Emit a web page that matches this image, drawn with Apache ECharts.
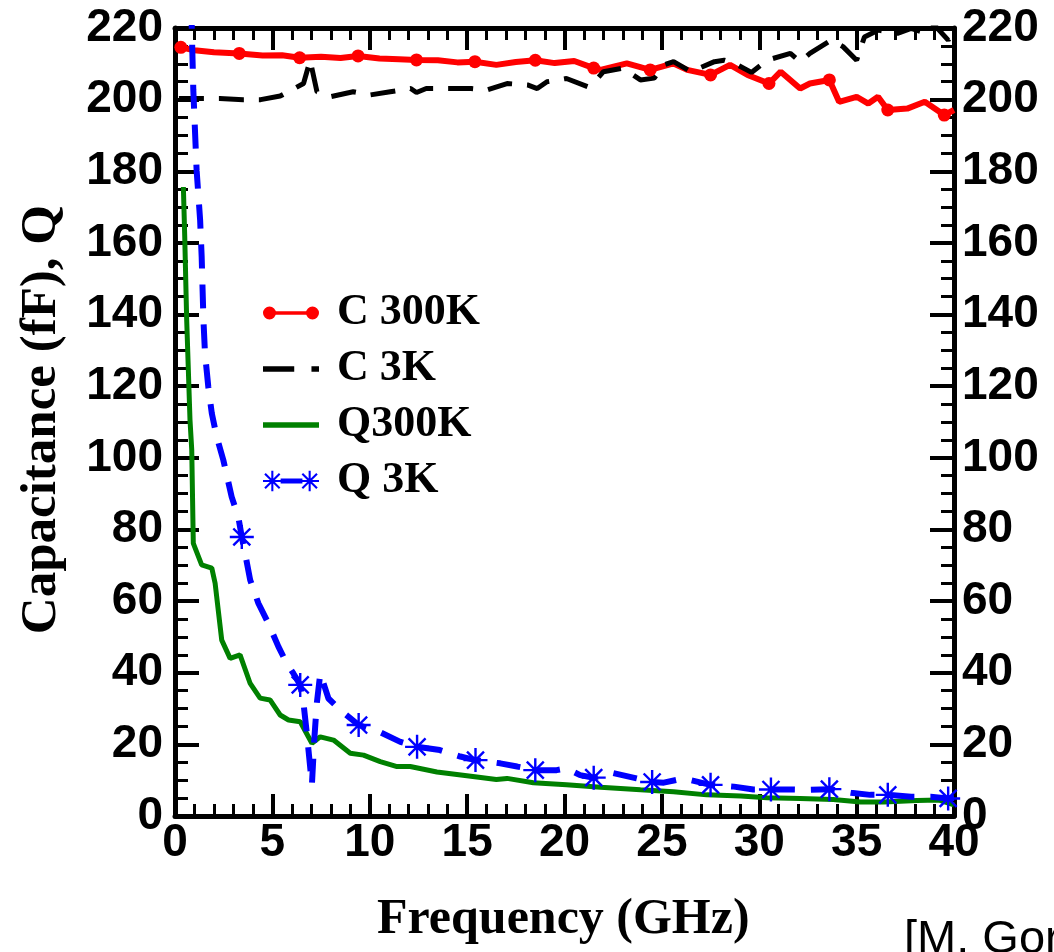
<!DOCTYPE html>
<html>
<head>
<meta charset="utf-8">
<script src="https://cdn.jsdelivr.net/npm/echarts@6/dist/echarts.min.js"></script>
<style>
  html, body { margin: 0; padding: 0; background: #fff; }
  #chart { width: 1054px; height: 952px; }
</style>
</head>
<body>
<div id="chart"></div>
<script>
// C 300K (red, dots every ~3 GHz)
var c300kFreq = [0.3, 1, 2, 3.3, 4.5, 5.5, 6.4, 7.5, 8.5, 9.4, 10.5, 11.5, 12.4, 13.5, 14.5, 15.4, 16.5, 17.5, 18.5, 19.5, 20.5, 21.5, 21.85, 23.2, 24.4, 25.6, 26.3, 27.5, 28.5, 29.4, 30.5, 31.1, 32.1, 32.6, 33.6, 34.1, 35.0, 35.6, 36.1, 36.6, 37.6, 38.5, 39.5, 40];
var c300kVal  = [214.6, 213.8, 213.2, 212.9, 212.3, 212.4, 211.7, 212.0, 211.6, 212.2, 211.5, 211.3, 211.1, 211.0, 210.4, 210.6, 209.7, 210.5, 211.0, 210.2, 210.8, 208.8, 208.3, 210.1, 208.3, 210.1, 208.3, 206.9, 209.7, 206.9, 204.5, 207.8, 203.1, 204.5, 205.5, 199.4, 200.8, 198.9, 200.8, 197.1, 197.5, 199.4, 195.7, 197.1];
var c300kMarkFreq = [0.3, 3.3, 6.4, 9.4, 12.4, 15.4, 18.5, 21.5, 24.4, 27.5, 30.5, 33.6, 36.6, 39.5];

// C 3K (black dashed)
var c3kFreq = [0.2, 1.45, 2.3, 3.5, 4.4, 5.4, 6.6, 6.94, 7.29, 7.97, 9.15, 10.0, 11.05, 12.1, 12.4, 12.9, 14.1, 15.2, 16.0, 17.05, 18.1, 18.6, 19.1, 20.1, 21.2, 21.5, 22.0, 23.0, 23.9, 24.6, 25.1, 25.6, 26.5, 27.7, 28.2, 28.7, 29.6, 30.4, 31.6, 32.1, 32.6, 33.7, 34.3, 35.0, 35.4, 36.1, 37.1, 37.8, 38.6, 39.0, 39.7, 40];
var c3kVal  = [200.3, 200.3, 200.3, 200.0, 200.0, 201.0, 204.5, 211.0, 202.2, 200.8, 202.2, 201.3, 202.2, 203.1, 202.0, 203.1, 203.1, 203.1, 202.7, 204.5, 204.1, 203.1, 205.0, 205.9, 203.6, 204.7, 207.8, 208.8, 205.5, 206.0, 209.7, 210.6, 207.8, 210.6, 211.0, 210.2, 207.6, 211.0, 212.9, 210.6, 212.9, 216.6, 214.8, 211.0, 217.5, 219.4, 218.5, 219.9, 218.5, 220.8, 216.6, 219.4];

// Q300K (green)
var q300kFreq = [0.43, 0.5, 0.6, 0.77, 0.86, 0.94, 1.37, 1.89, 2.06, 2.4, 2.83, 3.34, 3.86, 4.37, 4.88, 5.4, 5.83, 6.43, 7.03, 7.46, 8.14, 9.0, 9.68, 10.54, 11.4, 12.08, 13.45, 15.5, 16.5, 17.05, 18.4, 20.1, 21.85, 23.9, 25.6, 27.3, 29.05, 30.4, 32.1, 33.8, 35.2, 36.4, 38.1, 39.2, 40];
var q300kVal  = [175.6, 161.7, 138.5, 110.6, 102.2, 76.1, 70.1, 69.2, 65.0, 49.1, 44.0, 45.0, 37.0, 32.9, 32.4, 28.2, 26.8, 26.3, 20.3, 22.1, 21.2, 17.5, 17.0, 15.2, 13.8, 13.8, 12.3, 10.9, 10.2, 10.5, 9.3, 8.7, 8.0, 7.3, 6.8, 5.9, 5.6, 5.1, 4.9, 4.6, 3.9, 3.9, 4.3, 4.5, 3.1];

// Q 3K (blue dashed, asterisks)
var q3kFreq = [0.8, 0.86, 0.94, 1.11, 1.29, 1.37, 1.46, 1.54, 1.71, 1.89, 2.14, 2.48, 2.91, 3.25, 3.43, 3.6, 3.86, 4.28, 4.8, 5.31, 5.74, 6.08, 6.43, 6.6, 6.77, 6.94, 7.03, 7.15, 7.28, 7.46, 7.88, 8.48, 9.43, 10.5, 11.57, 12.43, 13.6, 14.65, 15.43, 16.7, 17.57, 18.5, 19.6, 20.1, 20.8, 21.5, 22.5, 23.7, 24.5, 25.1, 26.1, 27.5, 28.7, 29.7, 30.6, 31.6, 32.6, 33.6, 34.7, 35.7, 36.6, 37.8, 38.8, 39.7, 40];
var q3kVal  = [260, 220, 202.7, 180.3, 166.4, 156.0, 138.5, 129.2, 119.8, 112.4, 105.9, 99.4, 89.1, 83.5, 77.9, 73.3, 65.9, 59.4, 53.7, 47.3, 42.6, 39.8, 36.6, 31.4, 23.0, 13.7, 8.7, 21.2, 31.4, 39.8, 32.8, 29.6, 25.4, 23.5, 20.7, 19.3, 18.4, 16.6, 15.6, 14.7, 13.8, 12.8, 12.8, 13.3, 11.4, 10.7, 12.0, 10.5, 9.5, 9.3, 10.5, 8.7, 8.2, 7.4, 7.4, 7.4, 7.3, 7.5, 6.5, 5.9, 5.9, 5.4, 5.4, 4.9, 5.0];
var q3kMarkFreq = [3.43, 6.43, 9.43, 12.43, 15.43, 18.5, 21.5, 24.5, 27.5, 30.6, 33.6, 36.6, 39.7];

var seriesNames = ['C 300K', 'C 3K', 'Q300K', 'Q 3K'];
var xTitle = 'Frequency (GHz)';
var yTitle = 'Capacitance (fF), Q';
var creditText = '[M. Gordon';

function zip(xs, ys) {
  var out = [];
  for (var i = 0; i < xs.length; i++) out.push([xs[i], ys[i]]);
  return out;
}

// asterisk marker (4 thin bars, same winding)
var starBody = 'M-1 -10L1 -10L1 10L-1 10Z M-10 -1L10 -1L10 1L-10 1Z ' +
  'M-6.36 -7.78L7.78 6.36L6.36 7.78L-7.78 -6.36Z M-7.78 6.36L6.36 -7.78L7.78 -6.36L-6.36 7.78Z';
var asterisk = 'path://' + starBody;

// legend icons, drawn like the original key
var iconRed = 'path://M0 7a6.5 6.5 0 1 1 13 0a6.5 6.5 0 1 1 -13 0Z M6.5 5.3L49.5 5.3L49.5 8.7L6.5 8.7Z M43 7a6.5 6.5 0 1 1 13 0a6.5 6.5 0 1 1 -13 0Z';
var iconBlack = 'path://M0 0L29 0L29 5L0 5Z M45 0L52 0L52 5L45 5Z';
var iconGreen = 'path://M0 0L52 0L52 5L0 5Z';
var iconBlue = 'path://M1 -1L9 -1L9 -10L11 -10L11 -1L19 -1L19 1L11 1L11 10L9 10L9 1L1 1Z ' +
  'M3.64 -7.78L17.78 6.36L16.36 7.78L2.22 -6.36Z M2.22 6.36L16.36 -7.78L17.78 -6.36L3.64 7.78Z ' +
  'M18 -2.4L39 -2.4L39 2.4L18 2.4Z ' +
  'M37 -1L45 -1L45 -10L47 -10L47 -1L55 -1L55 1L47 1L47 10L45 10L45 1L37 1Z ' +
  'M39.64 -7.78L53.78 6.36L52.36 7.78L38.22 -6.36Z M38.22 6.36L52.36 -7.78L53.78 -6.36L39.64 7.78Z';

var tickFont = { fontFamily: 'Liberation Sans', fontWeight: 'bold', fontSize: 46, color: '#000' };
var titleFont = { fontFamily: 'Liberation Serif', fontWeight: 'bold', fill: '#000' };

function xAxisCfg(pos, showLabel) {
  return {
    type: 'value', position: pos, min: 0, max: 40, interval: 5,
    axisLine: { onZero: false, lineStyle: { color: '#000', width: 5 } },
    axisTick: { inside: true, length: 22, lineStyle: { color: '#000', width: 4 } },
    minorTick: { show: true, splitNumber: 5, length: 12, lineStyle: { color: '#000', width: 3 } },
    splitLine: { show: false },
    axisLabel: Object.assign({ show: showLabel, margin: 4 }, tickFont)
  };
}
function yAxisCfg(pos, margin) {
  return {
    type: 'value', position: pos, min: 0, max: 220, interval: 20,
    axisLine: { onZero: false, lineStyle: { color: '#000', width: 5 } },
    axisTick: { inside: true, length: 24, lineStyle: { color: '#000', width: 4 } },
    minorTick: { show: true, splitNumber: 4, length: 13, lineStyle: { color: '#000', width: 3 } },
    splitLine: { show: false },
    axisLabel: Object.assign({ show: true, margin: margin }, tickFont)
  };
}

var chart = echarts.init(document.getElementById('chart'));
var option = {
  animation: false,
  backgroundColor: '#fff',
  grid: { left: 175, right: 100, top: 28, bottom: 136, containLabel: false },
  xAxis: [xAxisCfg('bottom', true), xAxisCfg('top', false)],
  yAxis: [yAxisCfg('left', 12), yAxisCfg('right', 8)],
  legend: {
    orient: 'vertical',
    left: 258, top: 286,
    itemWidth: 56, itemHeight: 24, itemGap: 12,
    textStyle: { fontFamily: 'Liberation Serif', fontWeight: 'bold', fontSize: 44, color: '#000', padding: [0, 0, 0, 13] },
    data: [
      { name: seriesNames[0], icon: iconRed },
      { name: seriesNames[1], icon: iconBlack },
      { name: seriesNames[2], icon: iconGreen },
      { name: seriesNames[3], icon: iconBlue }
    ]
  },
  graphic: [
    { type: 'text', left: 377, top: 895, style: Object.assign({ text: xTitle, fontSize: 50 }, titleFont) },
    { type: 'text', left: 16, top: 205, rotation: Math.PI / 2, style: Object.assign({ text: yTitle, fontSize: 51 }, titleFont) },
    { type: 'text', left: 904, top: 917, style: { text: creditText, fontFamily: 'Liberation Sans', fontSize: 47, fill: '#000' } }
  ],
  series: [
    {
      name: seriesNames[0], type: 'line', data: zip(c300kFreq, c300kVal),
      color: '#ff0000', symbol: 'circle',
      symbolSize: function (v) { return c300kMarkFreq.indexOf(v[0]) >= 0 ? 13 : 0; },
      lineStyle: { width: 6, color: '#ff0000' }, itemStyle: { color: '#ff0000' }
    },
    {
      name: seriesNames[1], type: 'line', data: zip(c3kFreq, c3kVal),
      color: '#000', showSymbol: false, symbol: 'none',
      lineStyle: { width: 5, color: '#000', type: [25, 15] }
    },
    {
      name: seriesNames[2], type: 'line', data: zip(q300kFreq, q300kVal),
      color: '#008000', showSymbol: false, symbol: 'none',
      lineStyle: { width: 5, color: '#008000' }
    },
    {
      name: seriesNames[3], type: 'line', data: zip(q3kFreq, q3kVal),
      color: '#0000ff', symbol: asterisk,
      symbolSize: function (v) { return q3kMarkFreq.indexOf(v[0]) >= 0 ? 24 : 0; },
      lineStyle: { width: 6, color: '#0000ff', type: [24, 16] }, itemStyle: { color: '#0000ff' }
    }
  ]
};
chart.setOption(option);
</script>
</body>
</html>
